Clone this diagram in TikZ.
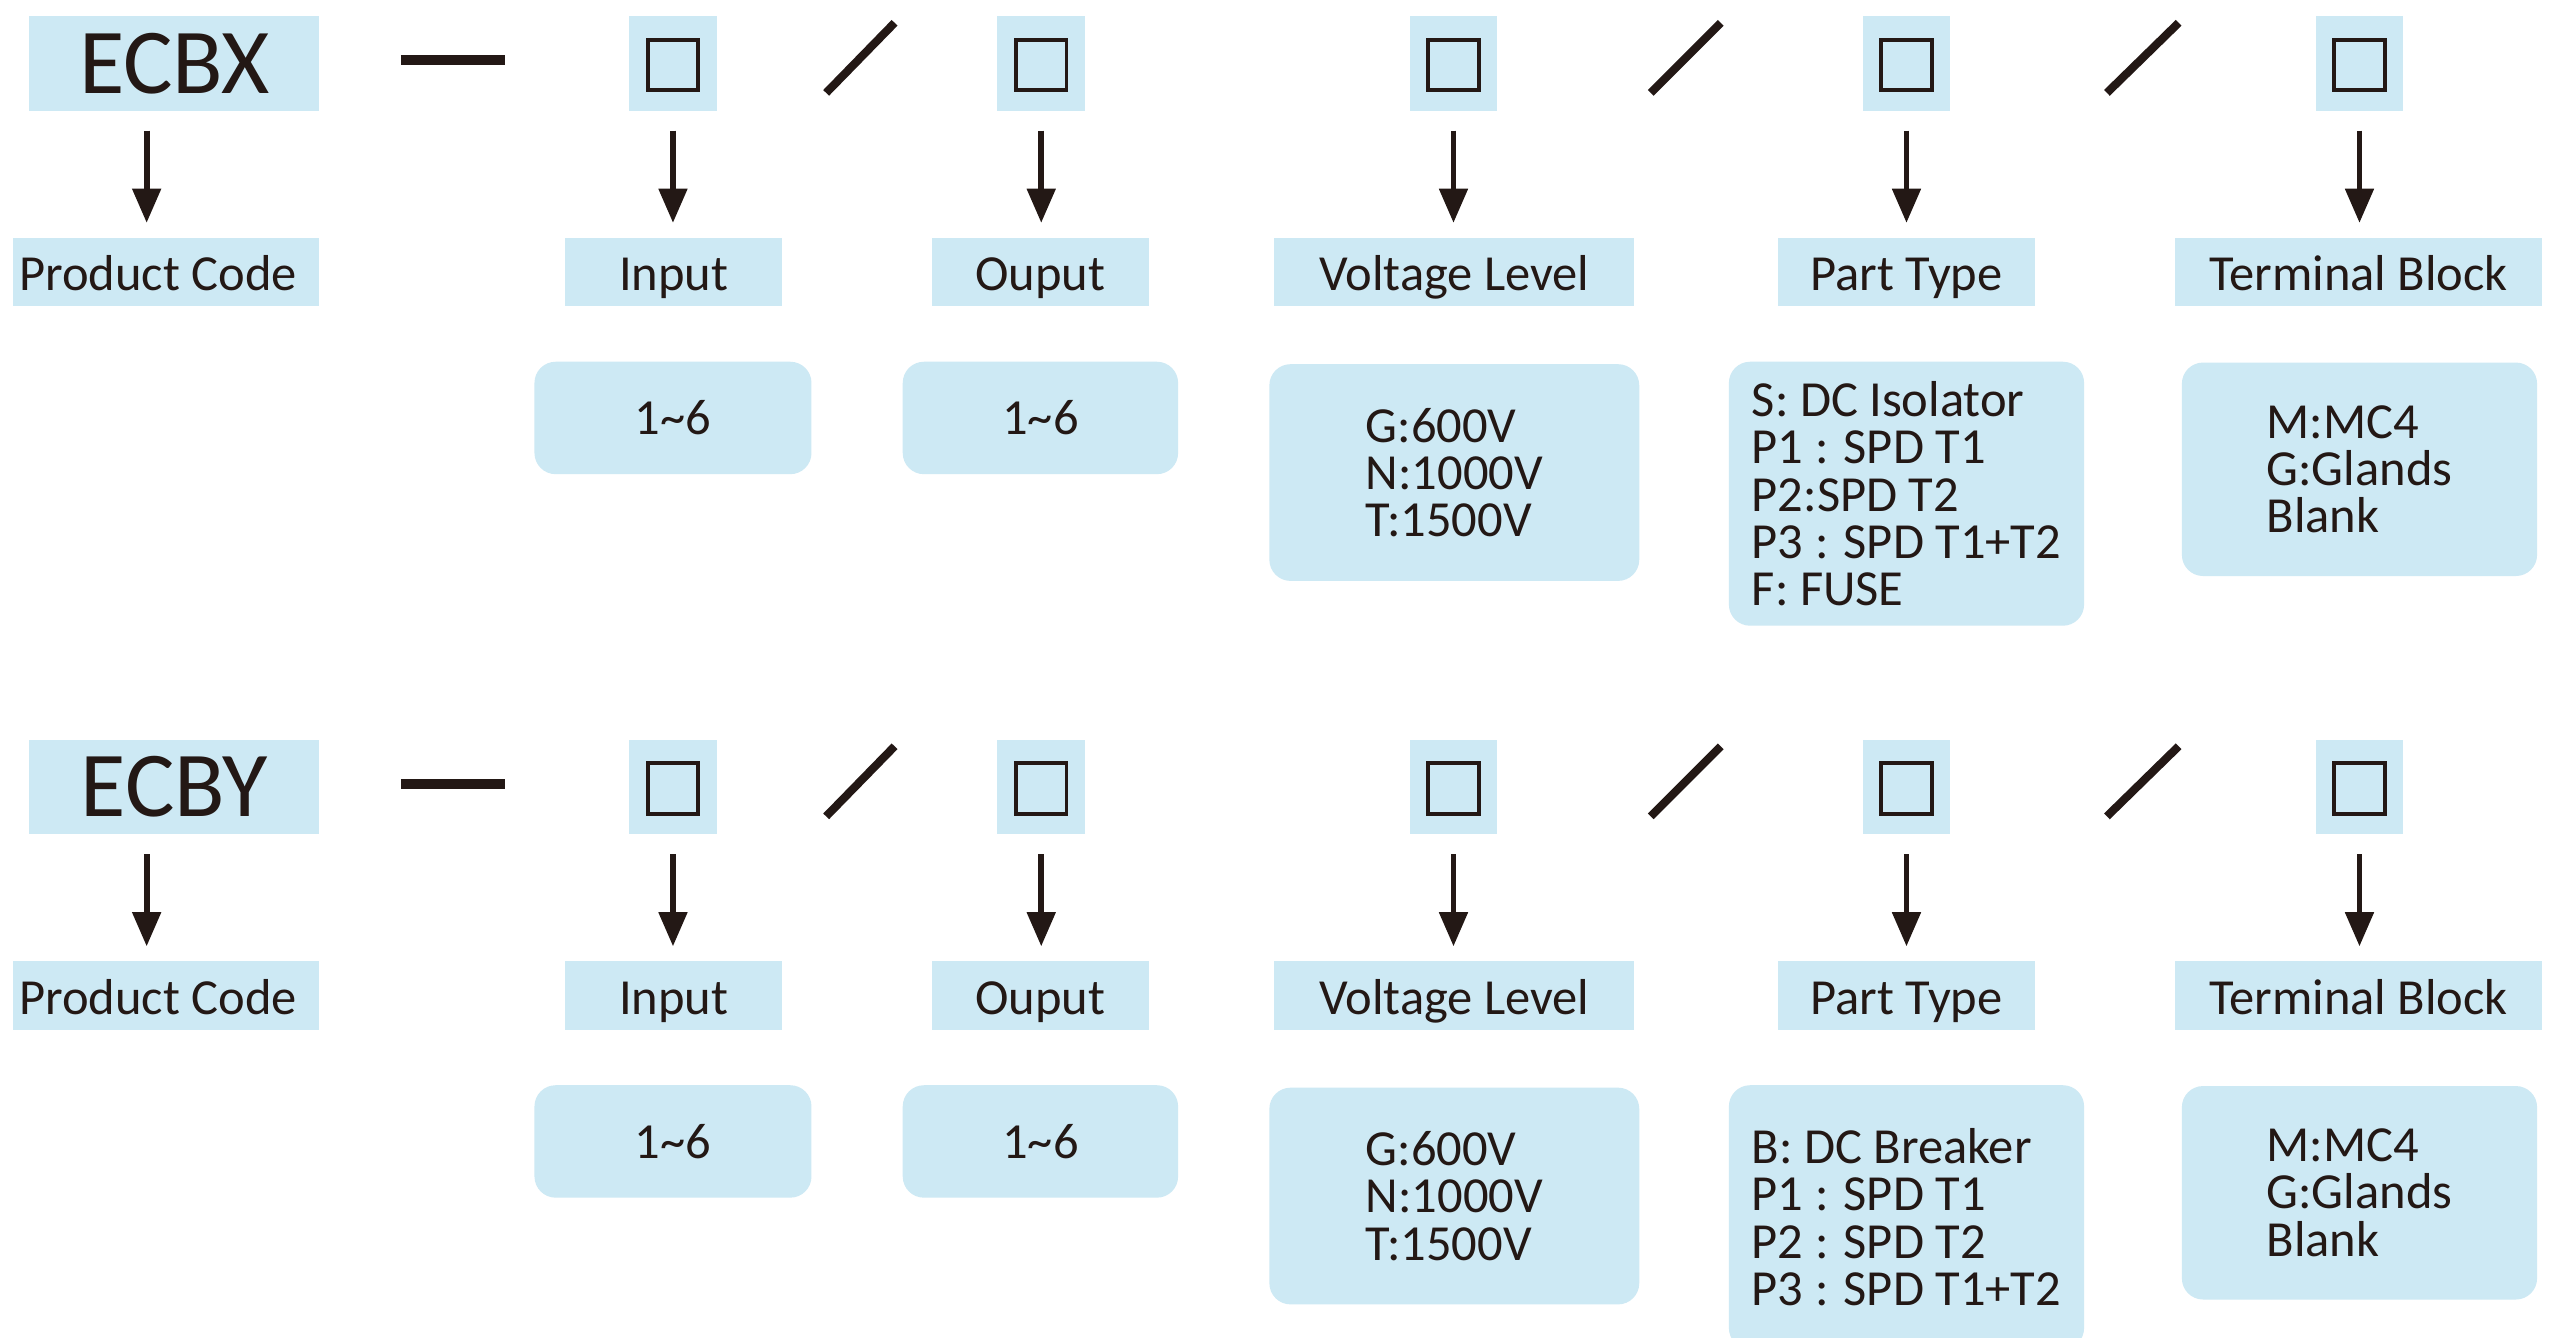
\documentclass[tikz,border=0pt]{standalone}
\usepackage{fontspec}
\setmainfont{Carlito}
\usetikzlibrary{arrows.meta,calc}
\definecolor{boxblue}{HTML}{CDE9F4}
\definecolor{ink}{HTML}{231815}
\tikzset{
 fillbox/.style={fill=boxblue, draw=none, inner sep=0pt, text=ink},
 codebox/.style={fillbox, minimum width=178pt, minimum height=58pt, font=\fontsize{57}{60}\selectfont},
 slotbox/.style={fillbox, minimum width=54pt, minimum height=58pt},
 slotsq/.style={draw=ink, line width=2.4pt, minimum width=31pt, minimum height=31pt, inner sep=0pt},
 lbltext/.style={text=ink, text height=23pt, text depth=0pt, inner sep=0pt, font=\fontsize{31}{33}\selectfont},
 lblbox/.style={fillbox, lbltext, minimum height=42pt},
 valbox/.style={fillbox, rounded corners=13pt, align=left, font=\fontsize{31}{29}\selectfont},
 arr/.style={draw=ink, line width=3.6pt, -{Triangle[width=17pt,length=21pt]}, shorten <=12pt, shorten >=9pt},
 sepline/.style={draw=ink, line width=5pt},
}
\newcommand\coderow[4]{%
\begin{scope}[yshift=-#2pt]
 % code box and slots
 \node[codebox] (code#1) at (107,39) {#3};
 \node[slotbox] (sin#1) at (413,39) {};
 \node[slotbox] (sout#1) at (639,39) {};
 \node[slotbox] (svl#1) at (892,39) {};
 \node[slotbox] (spt#1) at (1170,39) {};
 \node[slotbox] (stb#1) at (1448,39) {};
 \foreach \s in {sin,sout,svl,spt,stb}{\node[slotsq] (q\s#1) at ([yshift=-1pt]\s#1.center) {};}
 % separators
 \coordinate (d1a#1) at (246,37); \coordinate (d1b#1) at (310,37);
 \draw[sepline, line width=6pt] (d1a#1) -- (d1b#1);
 \coordinate (s1a#1) at (507,57); \coordinate (s1b#1) at (549,14);
 \coordinate (s2a#1) at (1013,57); \coordinate (s2b#1) at (1056,14);
 \coordinate (s3a#1) at (1293,57); \coordinate (s3b#1) at (1337,14);
 \draw[sepline] (s1a#1) -- (s1b#1);
 \draw[sepline] (s2a#1) -- (s2b#1);
 \draw[sepline] (s3a#1) -- (s3b#1);
 % label boxes
 \node[lblbox, minimum width=188pt] (lpc#1) at (102,167) {};
 \node[lbltext] (tpc#1) at (97,167) {Product Code};
 \node[lblbox, minimum width=133pt] (lin#1) at (413.5,167) {Input};
 \node[lblbox, minimum width=133pt] (lout#1) at (638.5,167) {Ouput};
 \node[lblbox, minimum width=221pt] (lvl#1) at (892.5,167) {Voltage Level};
 \node[lblbox, minimum width=158pt] (lpt#1) at (1170,167) {Part Type};
 \node[lblbox, minimum width=225pt] (ltb#1) at (1447.5,167) {Terminal Block};
 % arrows
 \draw[arr] ([xshift=-17pt]code#1.south) -- ([xshift=-17pt]code#1.south |- lpc#1.north);
 \draw[arr] (sin#1.south) -- (sin#1.south |- lin#1.north);
 \draw[arr] (sout#1.south) -- (sout#1.south |- lout#1.north);
 \draw[arr] (svl#1.south) -- (svl#1.south |- lvl#1.north);
 \draw[arr] (spt#1.south) -- (spt#1.south |- lpt#1.north);
 \draw[arr] (stb#1.south) -- (stb#1.south |- ltb#1.north);
 % value boxes
 \node[valbox, minimum width=170pt, minimum height=69pt] (vin#1) at (413,256.5) {1\char"7E 6};
 \node[valbox, minimum width=169pt, minimum height=69pt] (vout#1) at (638.5,256.5) {1\char"7E 6};
 \node[valbox, minimum width=227pt, minimum height=133pt] (vvl#1) at (892.5,290) {G:600V\\N:1000V\\T:1500V};
 \node[valbox, minimum width=218pt, minimum height=162pt] (vpt#1) at (1170,303) {#4};
 \node[valbox, minimum width=218pt, minimum height=131pt] (vtb#1) at (1448,288) {M:MC4\\G:Glands\\Blank};
\end{scope}}
\begin{document}
\begin{tikzpicture}[x=1pt,y=-1pt]
\useasboundingbox (0,0) rectangle (1568,821);
\clip (0,0) rectangle (1568,821);
\fill[white] (0,0) rectangle (1568,821);
\coderow{a}{0}{ECBX}{S: DC Isolator\\P1 : SPD T1\\P2:SPD T2\\P3 : SPD T1+T2\\F: FUSE}
\coderow{b}{444}{ECBY}{B: DC Breaker\\P1 : SPD T1\\P2 : SPD T2\\P3 : SPD T1+T2}
\end{tikzpicture}
\end{document}
